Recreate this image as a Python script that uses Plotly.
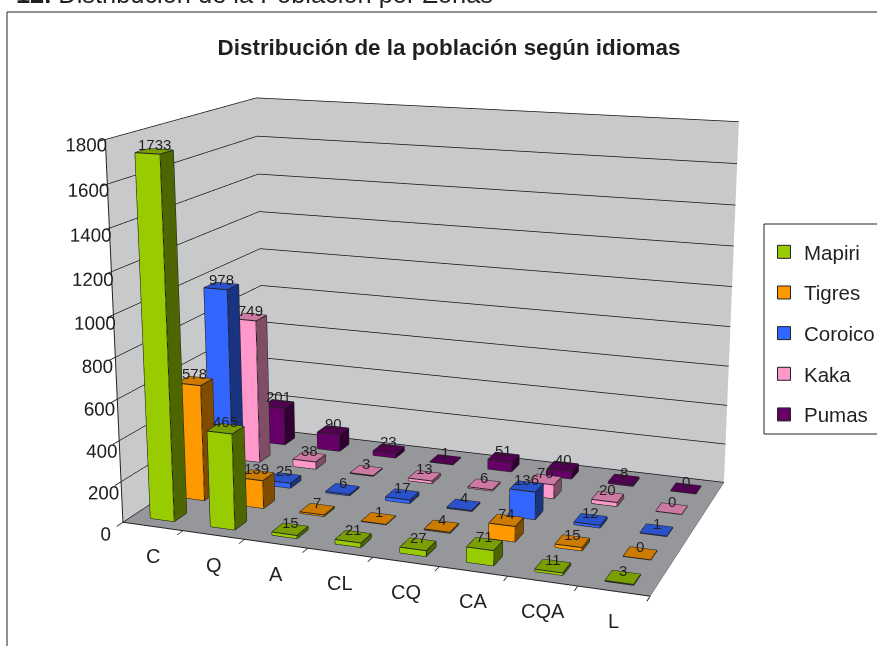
import plotly.graph_objects as go

categories = ['C', 'Q', 'A', 'CL', 'CQ', 'CA', 'CQA', 'L']
mapiri = [1733, 465, 15, 21, 27, 71, 11, 3]
tigres = [578, 139, 7, 1, 4, 74, 15, 0]
coroico = [978, 25, 6, 17, 4, 136, 12, 1]
kaka = [749, 38, 3, 13, 6, 70, 20, 0]
pumas = [201, 90, 23, 1, 51, 40, 8, 0]

# name, values, front / top / side colour of the bars
series = [
    ('Mapiri', mapiri, '#99CC00', '#7A9F00', '#4D6600'),
    ('Tigres', tigres, '#FF9900', '#CC7A00', '#804D00'),
    ('Coroico', coroico, '#3366FF', '#2952CC', '#1A3380'),
    ('Kaka', kaka, '#FF99CC', '#CC7AA3', '#804D66'),
    ('Pumas', pumas, '#660066', '#520052', '#330033'),
]

# the figure is taller than the window and pulled up by TOP: the gl camera has a
# fixed field of view, so this is the only way to get the flat perspective of the original
W, H = 877, 1500
TOP = H // 2 - 323
BAR = 0.4
TEXT = '#231f20'
EDGE = '#222222'


def X(px):
    return px / W


def Y(py):
    return 1 - (py + TOP) / H


fig = go.Figure()
labels = []
for s, (name, values, front, top, side) in enumerate(series):
    xs, ys, zs, ii, jj, kk, fc = [], [], [], [], [], [], []
    ex, ey, ez = [], [], []
    for c, v in enumerate(values):
        x0, x1 = c + 0.5 - BAR / 2, c + 0.5 + BAR / 2
        y0, y1 = s + 0.5 - BAR / 2, s + 0.5 + BAR / 2
        n = len(xs)
        xs += [x0, x1, x1, x0, x0, x1, x1, x0]
        ys += [y0, y0, y1, y1, y0, y0, y1, y1]
        zs += [0, 0, 0, 0, v, v, v, v]
        faces = [(0, 1, 5, front), (0, 5, 4, front), (1, 2, 6, side), (1, 6, 5, side),
                 (4, 5, 6, top), (4, 6, 7, top), (2, 3, 7, side), (2, 7, 6, side),
                 (3, 0, 4, side), (3, 4, 7, side)]
        for a, b, d, col in faces:
            ii.append(n + a)
            jj.append(n + b)
            kk.append(n + d)
            fc.append(col)
        for a, b in [(0, 1), (1, 2), (2, 3), (3, 0), (4, 5), (5, 6), (6, 7), (7, 4), (0, 4), (1, 5), (2, 6), (3, 7)]:
            ex += [xs[n + a], xs[n + b], None]
            ey += [ys[n + a], ys[n + b], None]
            ez += [zs[n + a], zs[n + b], None]
        labels.append(dict(x=c + 0.5, y=s + 0.5, z=v, text=str(v), showarrow=False, yshift=7,
                           font=dict(size=15, color=TEXT)))
    fig.add_trace(go.Mesh3d(x=xs, y=ys, z=zs, i=ii, j=jj, k=kk, facecolor=fc, flatshading=True,
                            lighting=dict(ambient=1, diffuse=0, specular=0, fresnel=0), hoverinfo='skip'))
    fig.add_trace(go.Scatter3d(x=ex, y=ey, z=ez, mode='lines', line=dict(color=EDGE, width=2),
                               showlegend=False, hoverinfo='skip'))
    # empty trace, only for the legend entry
    fig.add_trace(go.Scatter3d(x=[None], y=[None], z=[None], mode='markers', name=name, legendgroup=name,
                               marker=dict(symbol='square', size=13, color=front, line=dict(color=EDGE, width=1))))

for c, cat in enumerate(categories):
    labels.append(dict(x=c + 0.5, y=0, z=0, text=cat, showarrow=False, yshift=-30,
                       font=dict(size=20, color=TEXT)))

scene = dict(
    domain=dict(x=[0, 1], y=[0, 1]),
    aspectmode='manual',
    aspectratio=dict(x=1, y=0.6053, z=0.7140),
    camera=dict(eye=dict(x=1.1438, y=-3.0624, z=0.8369), center=dict(x=0.0158, y=-0.0109, z=0),
                up=dict(x=0, y=0, z=1)),
    xaxis=dict(range=[0, 8], tickvals=list(range(9)), ticktext=[''] * 9, showgrid=False, title='',
               showbackground=True, backgroundcolor='#C8C9CB', showline=True, linecolor=EDGE, linewidth=2,
               ticks='outside', ticklen=8, tickcolor=EDGE, tickwidth=2, zeroline=False, showspikes=False),
    yaxis=dict(range=[0, 5], showticklabels=False, showgrid=False, title='', ticks='',
               showbackground=True, backgroundcolor='#C8C9CB', showline=True, linecolor='#555555',
               zeroline=False, showspikes=False),
    zaxis=dict(range=[0, 1800], dtick=200, showgrid=True, gridcolor='#111111', gridwidth=1.5, title='',
               showbackground=True, backgroundcolor='#96979A', showline=True, linecolor=EDGE, linewidth=2,
               ticks='outside', ticklen=12, tickcolor=EDGE, tickwidth=2, zeroline=False, showspikes=False,
               tickangle=0, tickfont=dict(size=15, color=TEXT)),
    annotations=labels,
)

fig.update_layout(
    width=W, height=H, margin=dict(l=0, r=0, t=0, b=0, autoexpand=False), paper_bgcolor='white',
    font=dict(family='Liberation Sans', color=TEXT),
    scene=scene,
    title=dict(text='<b>Distribución de la población según idiomas</b>', x=X(449), xanchor='center',
               y=Y(47), yanchor='middle', font=dict(size=22.4)),
    legend=dict(x=X(764), y=Y(232), xanchor='left', yanchor='top', borderwidth=0,
                bgcolor='rgba(0,0,0,0)', font=dict(size=20.5), tracegroupgap=11, traceorder='grouped'),
    shapes=[dict(type='rect', xref='paper', yref='paper', x0=X(7), x1=1.01, y0=-0.01, y1=Y(12),
                 line=dict(color=EDGE, width=1)),
            dict(type='rect', xref='paper', yref='paper', x0=X(764), x1=1.01, y0=Y(434), y1=Y(224),
                 line=dict(color=EDGE, width=1))],
    annotations=[dict(text='<b>12.</b> Distribución de la Población por Zonas', xref='paper', yref='paper',
                      x=X(14), y=Y(-6), xanchor='left', yanchor='middle', showarrow=False,
                      font=dict(size=25.4))],
)
fig.write_html('out.html', config=dict(displayModeBar=False),
               post_script="document.body.style.margin='%dpx 0 0 0';document.documentElement.style.overflow='hidden';" % -TOP)
